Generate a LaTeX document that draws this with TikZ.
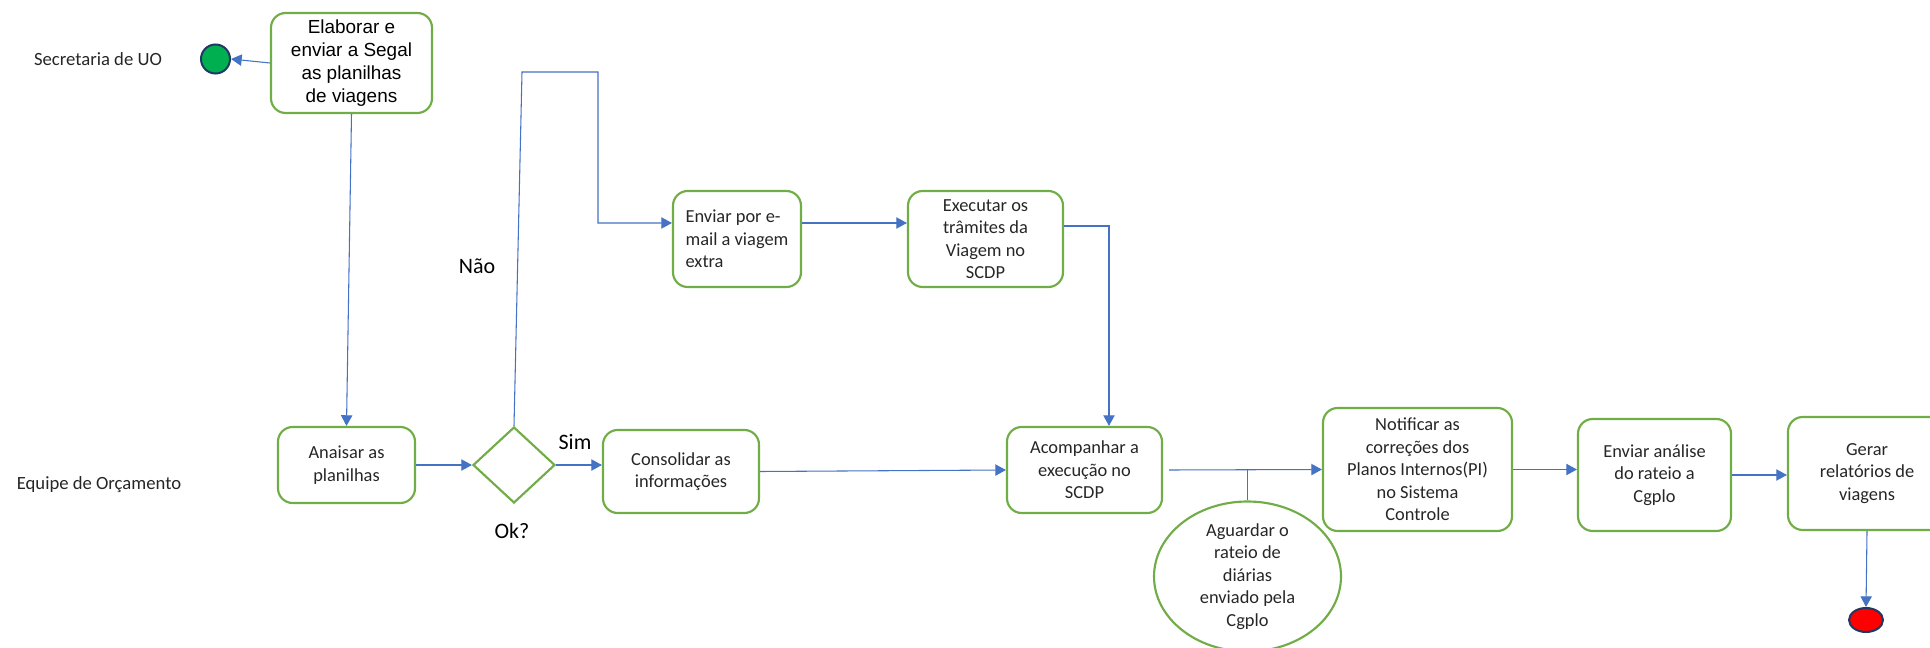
\documentclass[tikz,border=0pt]{standalone}
\usepackage{fontspec}
\setmainfont{Carlito}
\newfontfamily\arialf{Liberation Sans}
\usetikzlibrary{shapes.geometric,arrows.meta}
\definecolor{boxgreen}{HTML}{70AD47}
\definecolor{linkblue}{HTML}{4472C4}
\definecolor{startgreen}{HTML}{00B050}
\definecolor{navy}{HTML}{1F3864}
\definecolor{txt}{HTML}{262626}
\tikzset{
  stepbox/.style={draw=boxgreen, line width=1.6pt, rounded corners=11pt, align=center, inner sep=0pt,
    text=txt, font=\fontsize{13.8}{16.9}\selectfont},
  lane/.style={text=txt, font=\fontsize{14}{17}\selectfont, inner sep=0pt},
  cond/.style={text=black, font=\fontsize{16.5}{19}\selectfont, inner sep=0pt},
  arr/.style={draw=linkblue, line width=0.8pt, -{Triangle[length=8pt,width=8.5pt]}},
  lnk/.style={draw=linkblue, line width=0.8pt},
}
\begin{document}
\begin{tikzpicture}[x=0.75pt,y=-0.75pt]
\useasboundingbox (0,0) rectangle (1930,648);
\clip (0,0) rectangle (1930,648);
% lane labels
\node[lane] (lsec) at (98,59) {Secretaria de UO};
\node[lane] (lequ) at (99,485) {Equipe de Orçamento};
% events
\node[circle, draw=navy, line width=1.5pt, fill=startgreen, minimum size={29*0.75pt}, inner sep=0pt] (start) at (215.5,59) {};
\node[ellipse, draw=navy, line width=1.5pt, fill=red, minimum width={34*0.75pt}, minimum height={24*0.75pt}, inner sep=0pt] (end) at (1866,620) {};
% tasks
\node[stepbox, font=\arialf\fontsize{14.2}{17.3}\selectfont, text=black, minimum width={161*0.75pt}, minimum height={100*0.75pt}] (elab) at (351.5,63)
  {Elaborar e\\enviar a Segal\\as planilhas\\de viagens};
\node[stepbox, minimum width={137*0.75pt}, minimum height={76*0.75pt}] (anal) at (346.5,465) {Anaisar as\\planilhas};
\node[diamond, draw=boxgreen, line width=1.6pt, minimum width={82*0.75pt}, minimum height={76*0.75pt}, inner sep=0pt] (dec) at (514,465) {};
\node[stepbox, minimum width={156*0.75pt}, minimum height={83*0.75pt}] (cons) at (681,471.5) {Consolidar as\\informações};
\node[stepbox, align=left, minimum width={128*0.75pt}, minimum height={96*0.75pt}] (env) at (737,239) {Enviar por e-\\mail a viagem\\extra};
\node[stepbox, minimum width={155*0.75pt}, minimum height={96*0.75pt}] (exec) at (985.5,239) {Executar os\\trâmites da\\Viagem no\\SCDP};
\node[stepbox, minimum width={155*0.75pt}, minimum height={86*0.75pt}] (acomp) at (1084.5,470) {Acompanhar a\\execução no\\SCDP};
\node[ellipse, draw=boxgreen, line width=1.6pt, align=center, inner sep=0pt, text=txt, font=\fontsize{13.8}{16.9}\selectfont,
  minimum width={187*0.75pt}, minimum height={141*0.75pt}] (aguard) at (1247.5,576.5) {Aguardar o\\rateio de\\diárias\\enviado pela\\Cgplo};
\node[stepbox, minimum width={189*0.75pt}, minimum height={123*0.75pt}] (notif) at (1417.5,469.5) {Notificar as\\correções dos\\Planos Internos(PI)\\no Sistema\\Controle};
\node[stepbox, minimum width={153*0.75pt}, minimum height={112*0.75pt}] (envan) at (1654.5,475) {Enviar análise\\do rateio a\\Cgplo};
\node[stepbox, minimum width={158*0.75pt}, minimum height={113*0.75pt}] (gerar) at (1867,473.5) {Gerar\\relatórios de\\viagens};
% condition labels
\node[cond] (nao) at (477,266) {Não};
\node[cond] (sim) at (575,442) {Sim};
\node[cond] (ok) at (512,531) {Ok?};
% helper coordinates
\coordinate (l1) at (522,72);
\coordinate (l2) at (598,72);
\coordinate (l3) at (598,223);
\coordinate (c1) at (1109,226);
% connectors
\draw[arr] (elab.west) -- (start.east);
\draw[arr] (elab.south) -- (anal.north);
\draw[arr] (anal.east) -- (dec.west);
\draw[arr] (dec.east) -- (cons.west |- dec.east);
\draw[arr] (dec.north) -- (l1) -- (l2) -- (l3) -- (l3 -| env.west);
\draw[arr] (env.east |- l3) -- (exec.west |- l3);
\draw[arr] (exec.east |- c1) -- (c1) -- (c1 |- acomp.north);
\draw[arr] (cons.east) -- (acomp.west);
\draw[arr] ([xshift=4.5pt]acomp.east) -- (notif.west);
\draw[lnk] (aguard.north) -- (aguard.north |- acomp.east);
\draw[arr] (notif.east) -- (notif.east -| envan.west);
\draw[arr] (envan.east) -- (envan.east -| gerar.west);
\draw[arr] (gerar.south) -- (end.north);
\end{tikzpicture}
\end{document}
